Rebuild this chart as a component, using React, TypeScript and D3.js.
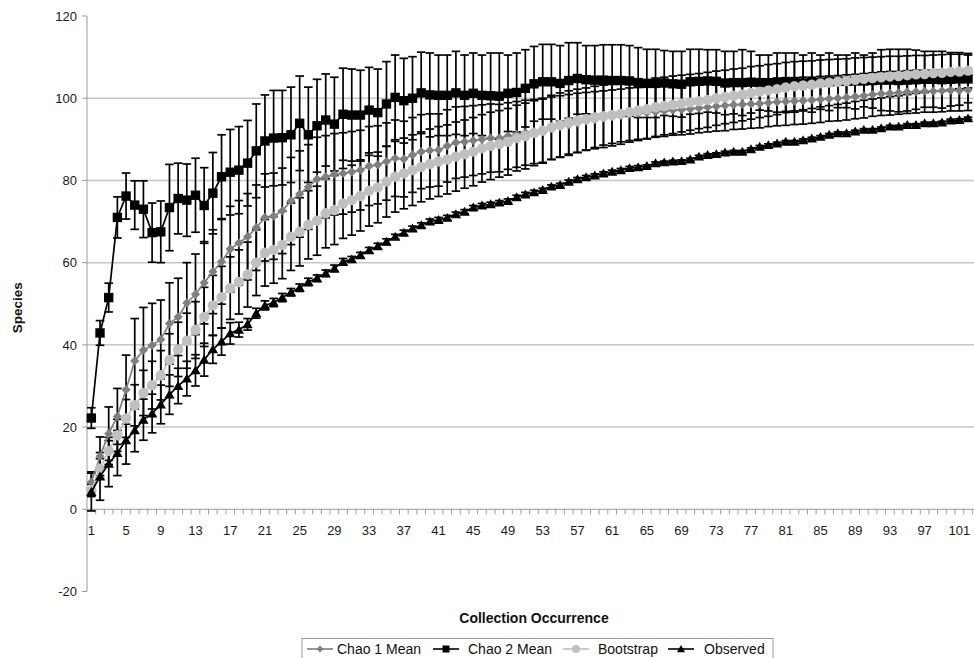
import React from 'react';
import * as d3 from 'd3';

const categories: number[] = Array.from({ length: 102 }, (_, i) => i + 1);
const xTickLabels = [1, 5, 9, 13, 17, 21, 25, 29, 33, 37, 41, 45, 49, 53, 57, 61, 65, 69, 73, 77, 81, 85, 89, 93, 97, 101];
const yTicks = [-20, 0, 20, 40, 60, 80, 100, 120];
const gridValues = [20, 40, 60, 80, 100];

const chao1Mean = [
  6.6, 12.9, 18.4, 22.6, 29.1, 36.1, 38.7, 39.9, 41.3, 45.2,
  46.8, 50.2, 52.3, 55.1, 57.8, 60.2, 63.3, 64.8, 66.3, 68.5,
  71.0, 71.3, 72.6, 75.0, 76.7, 78.4, 80.3, 80.9, 81.5, 81.7,
  82.1, 82.5, 83.5, 83.8, 84.6, 85.4, 85.2, 86.2, 87.0, 87.3,
  87.4, 88.4, 89.2, 89.4, 89.7, 90.0, 90.3, 90.3, 90.8, 91.2,
  91.6, 91.9, 92.1, 92.7, 93.1, 93.5, 94.0, 94.4, 94.8, 95.2,
  95.5, 95.8, 96.1, 96.3, 96.5, 96.7, 96.9, 97.1, 97.2, 97.4,
  97.6, 97.8, 98.0, 98.2, 98.4, 98.5, 98.6, 98.7, 98.9, 99.1,
  99.2, 99.3, 99.4, 99.5, 99.7, 99.9, 100.0, 100.2, 100.4, 100.6,
  100.9, 101.1, 101.2, 101.3, 101.5, 101.6, 101.7, 101.7, 101.8, 101.9,
  101.9, 102.0,
];
const chao1Sd = [
  2.5, 4.7, 6.5, 6.8, 8.4, 10.3, 10.4, 10.2, 9.6, 9.9,
  9.4, 9.8, 9.8, 10.0, 10.2, 10.3, 10.4, 10.3, 10.5, 10.4,
  10.6, 10.5, 10.4, 10.6, 10.5, 10.3, 10.2, 10.0, 9.9, 9.9,
  9.8, 9.7, 9.6, 9.5, 9.4, 9.3, 9.2, 9.1, 9.0, 8.9,
  8.8, 8.8, 8.7, 8.6, 8.5, 8.4, 8.3, 8.2, 8.1, 8.0,
  7.9, 7.8, 7.7, 7.6, 7.5, 7.4, 7.2, 7.0, 6.8, 6.6,
  6.5, 6.4, 6.4, 6.3, 6.3, 6.2, 6.2, 6.1, 6.1, 6.1,
  6.0, 6.0, 6.0, 6.1, 6.0, 6.0, 5.9, 5.9, 5.8, 5.8,
  5.8, 5.7, 5.7, 5.6, 5.6, 5.5, 5.5, 5.5, 5.4, 5.4,
  5.3, 5.3, 5.3, 5.2, 5.2, 5.2, 5.1, 5.1, 5.1, 5.0,
  5.0, 5.0,
];

const chao2Mean = [
  22.2, 42.9, 51.5, 71.0, 76.2, 74.0, 73.0, 67.3, 67.5, 73.4,
  75.6, 75.2, 76.4, 73.9, 76.9, 80.9, 82.0, 82.5, 84.2, 87.2,
  89.6, 90.3, 90.4, 91.1, 93.9, 91.1, 93.3, 94.7, 93.7, 96.1,
  95.9, 95.9, 97.1, 96.5, 98.6, 100.2, 99.4, 100.0, 101.3, 100.8,
  100.7, 100.7, 101.3, 100.7, 101.2, 100.7, 100.6, 100.5, 101.2, 101.4,
  102.4, 103.5, 104.0, 104.0, 103.6, 104.3, 104.8, 104.5, 104.4, 104.4,
  104.3, 104.3, 104.2, 103.8, 103.6, 103.6, 103.7, 103.5, 103.4, 104.0,
  104.1, 104.2, 104.1, 103.7, 103.8, 103.8, 103.9, 103.8, 103.7, 103.8,
  103.9, 103.8, 103.7, 103.8, 103.9, 104.0, 104.1, 104.1, 104.2, 104.2,
  104.3, 104.4, 104.4, 104.3, 104.4, 104.5, 104.6, 104.6, 104.5, 104.6,
  104.7, 104.7,
];
const chao2Sd = [
  2.5, 3.0, 3.5, 5.0, 5.6, 5.9, 6.9, 7.2, 7.5, 10.5,
  8.6, 8.8, 9.0, 9.2, 9.9, 10.2, 10.4, 10.6, 10.4, 11.4,
  11.2, 11.6, 11.5, 11.6, 11.5, 11.6, 11.3, 11.2, 11.4, 11.2,
  11.2, 10.9, 10.4, 10.6, 10.3, 10.3, 10.3, 10.1, 9.9, 10.2,
  9.8, 9.8, 10.1, 9.8, 9.8, 9.8, 10.4, 10.5, 9.3, 9.6,
  9.4, 9.1, 9.1, 9.1, 9.2, 9.2, 8.7, 8.3, 8.4, 8.6,
  8.7, 8.7, 8.6, 8.5, 8.3, 8.3, 7.9, 7.9, 8.0, 7.9,
  7.8, 7.6, 7.7, 7.7, 7.6, 8.0, 7.5, 6.7, 6.8, 7.2,
  7.1, 7.2, 6.8, 7.2, 6.6, 7.0, 6.4, 6.4, 6.8, 6.3,
  6.7, 7.4, 7.5, 7.6, 7.5, 7.2, 6.8, 6.8, 6.9, 6.5,
  6.4, 5.8,
];

const bootstrapMean = [
  4.6, 9.9, 14.2, 18.0, 22.1, 25.3, 28.3, 30.2, 32.6, 36.3,
  38.9, 41.0, 43.6, 46.8, 49.6, 51.6, 53.8, 55.3, 57.1, 60.0,
  62.4, 63.1, 64.3, 66.3, 67.5, 69.2, 70.2, 72.0, 72.8, 74.4,
  75.2, 76.2, 77.5, 78.3, 79.7, 80.9, 81.7, 82.5, 83.3, 84.0,
  84.6, 85.1, 85.8, 86.4, 87.0, 87.8, 88.4, 88.9, 89.4, 90.3,
  90.8, 91.5, 92.1, 92.9, 93.5, 94.1, 94.5, 94.9, 95.3, 95.6,
  95.9, 96.2, 96.6, 97.0, 97.3, 97.8, 98.1, 98.4, 98.7, 99.0,
  99.3, 99.6, 100.0, 100.3, 100.6, 100.9, 101.3, 101.6, 101.9, 102.2,
  102.6, 102.9, 103.1, 103.3, 103.6, 103.8, 104.0, 104.2, 104.5, 104.7,
  104.9, 105.1, 105.3, 105.4, 105.6, 105.8, 105.9, 106.1, 106.2, 106.4,
  106.5, 106.7,
];
const bootstrapSd = [
  1.5, 2.4, 3.3, 3.9, 4.6, 5.0, 5.5, 5.8, 6.0, 6.4,
  6.6, 6.7, 6.9, 7.2, 7.3, 7.5, 7.6, 7.8, 7.9, 8.0,
  8.1, 8.1, 8.2, 8.2, 8.3, 8.3, 8.4, 8.4, 8.4, 8.5,
  8.5, 8.5, 8.6, 8.6, 8.6, 8.6, 8.6, 8.6, 8.5, 8.5,
  8.5, 8.4, 8.4, 8.3, 8.3, 8.2, 8.2, 8.1, 8.1, 8.0,
  8.0, 7.9, 7.9, 7.8, 7.8, 7.7, 7.7, 7.6, 7.6, 7.6,
  7.5, 7.4, 7.3, 7.3, 7.2, 7.1, 7.0, 7.0, 6.9, 6.8,
  6.7, 6.7, 6.6, 6.5, 6.5, 6.4, 6.4, 6.3, 6.3, 6.2,
  6.1, 6.0, 5.9, 5.8, 5.7, 5.6, 5.5, 5.4, 5.3, 5.2,
  5.1, 5.0, 4.9, 4.8, 4.7, 4.6, 4.5, 4.4, 4.4, 4.3,
  4.2, 4.2,
];

const observedMean = [
  4.2, 8.0, 11.1, 13.7, 16.8, 19.2, 21.8, 23.3, 25.5, 27.9,
  30.0, 31.8, 33.8, 36.4, 38.9, 40.8, 42.8, 43.7, 45.0, 47.7,
  49.6, 50.3, 51.5, 52.8, 53.9, 55.3, 56.2, 57.4, 58.6, 60.2,
  60.8, 61.8, 63.0, 64.0, 65.1, 66.3, 67.3, 68.3, 69.1, 70.0,
  70.4, 70.9, 71.8, 72.4, 73.4, 73.9, 74.2, 74.6, 75.0, 75.9,
  76.6, 77.1, 77.7, 78.5, 78.9, 79.7, 80.3, 80.8, 81.2, 81.7,
  82.1, 82.5, 83.0, 83.2, 83.5, 84.2, 84.4, 84.6, 84.7, 85.1,
  85.8, 86.2, 86.4, 86.8, 87.0, 87.0, 87.6, 88.2, 88.6, 89.0,
  89.4, 89.4, 89.8, 90.2, 90.6, 91.1, 91.5, 91.5, 91.9, 92.3,
  92.3, 92.7, 93.1, 93.1, 93.5, 93.5, 93.9, 93.9, 94.1, 94.6,
  94.7, 95.1,
];
const observedSd = [
  4.6, 5.8, 5.6, 5.5, 5.8, 5.2, 5.0, 4.7, 4.7, 4.8,
  4.3, 4.2, 3.8, 4.0, 3.4, 3.3, 2.6, 1.8, 1.4, 1.2,
  1.1, 1.0, 1.0, 0.9, 0.9, 0.9, 0.8, 0.8, 0.8, 0.8,
  0.7, 0.7, 0.7, 0.7, 0.7, 0.6, 0.6, 0.6, 0.6, 0.6,
  0.6, 0.6, 0.5, 0.5, 0.5, 0.5, 0.5, 0.5, 0.5, 0.5,
  0.5, 0.5, 0.4, 0.4, 0.4, 0.4, 0.4, 0.4, 0.4, 0.4,
  0.4, 0.4, 0.4, 0.4, 0.3, 0.3, 0.3, 0.3, 0.3, 0.3,
  0.3, 0.3, 0.3, 0.3, 0.3, 0.3, 0.3, 0.3, 0.3, 0.3,
  0.3, 0.3, 0.3, 0.3, 0.3, 0.3, 0.3, 0.3, 0.3, 0.3,
  0.3, 0.3, 0.3, 0.3, 0.3, 0.3, 0.3, 0.3, 0.3, 0.3,
  0.3, 0.3,
];

type Marker = 'diamond' | 'square' | 'circle' | 'triangle';
interface Series {
  name: string;
  values: number[];
  sd: number[];
  color: string;
  marker: Marker;
}

const seriesList: Series[] = [
  { name: 'Chao 1 Mean', values: chao1Mean, sd: chao1Sd, color: '#7f7f7f', marker: 'diamond' },
  { name: 'Chao 2 Mean', values: chao2Mean, sd: chao2Sd, color: '#000000', marker: 'square' },
  { name: 'Bootstrap', values: bootstrapMean, sd: bootstrapSd, color: '#c0c0c0', marker: 'circle' },
  { name: 'Observed', values: observedMean, sd: observedSd, color: '#000000', marker: 'triangle' },
];

const W = 974;
const H = 658;
const PLOT_LEFT = 87;
const BAND = 8.68;
const PLOT_RIGHT = PLOT_LEFT + categories.length * BAND;
const PLOT_TOP = 16;
const PLOT_BOTTOM = 591.5;
const FONT = '"Liberation Sans", Arial, sans-serif';

function markerPath(m: Marker, s: number): string {
  if (m === 'diamond') return `M0,${-s}L${s},0L0,${s}L${-s},0Z`;
  if (m === 'square') return `M${-s},${-s}H${s}V${s}H${-s}Z`;
  if (m === 'triangle') return `M0,${-s * 1.05}L${s * 1.1},${s * 0.85}L${-s * 1.1},${s * 0.85}Z`;
  return d3.arc()({ innerRadius: 0, outerRadius: s, startAngle: 0, endAngle: Math.PI * 2 }) || '';
}

const markerSize: Record<Marker, number> = { diamond: 4.6, square: 4.7, circle: 5.2, triangle: 4.7 };
const legendMarkerSize: Record<Marker, number> = { diamond: 3.4, square: 3.5, circle: 3.9, triangle: 3.7 };

export default function App() {
  const x = d3.scaleBand<number>().domain(categories).range([PLOT_LEFT, PLOT_RIGHT]).paddingInner(0).paddingOuter(0);
  const cx = (c: number) => (x(c) as number) + x.bandwidth() / 2;
  const y = d3.scaleLinear().domain([-20, 120]).range([PLOT_BOTTOM, PLOT_TOP]);
  const y0 = y(0);

  const line = d3
    .line<number>()
    .x((_, i) => cx(categories[i]))
    .y((v) => y(v));

  const legendItems = [
    { s: seriesList[0], lx: 307, tx: 337 },
    { s: seriesList[1], lx: 433, tx: 468 },
    { s: seriesList[2], lx: 563, tx: 598 },
    { s: seriesList[3], lx: 668, tx: 704 },
  ];
  const legendY = 649;

  return (
    <svg
      width={W}
      height={H}
      viewBox={`0 0 ${W} ${H}`}
      style={{ position: 'absolute', left: 0, top: 0, background: '#ffffff' }}
      fontFamily={FONT}
    >
      <rect x={0} y={0} width={W} height={H} fill="#ffffff" />

      {gridValues.map((g) => (
        <line key={'g' + g} x1={PLOT_LEFT} x2={W} y1={y(g)} y2={y(g)} stroke="#c6c6c6" strokeWidth={1.5} />
      ))}

      <line x1={PLOT_LEFT} x2={PLOT_LEFT} y1={PLOT_TOP} y2={PLOT_BOTTOM} stroke="#9a9a9a" strokeWidth={1} />
      {yTicks.map((t) => (
        <g key={'yt' + t}>
          <line x1={PLOT_LEFT - 5} x2={PLOT_LEFT} y1={y(t)} y2={y(t)} stroke="#9a9a9a" strokeWidth={1} />
          <text x={PLOT_LEFT - 10} y={y(t)} dy="0.36em" textAnchor="end" fontSize={13} fill="#1a1a1a">
            {t}
          </text>
        </g>
      ))}

      <line x1={PLOT_LEFT} x2={W} y1={y0} y2={y0} stroke="#9a9a9a" strokeWidth={1} />
      {categories.map((c) => (
        <line
          key={'xt' + c}
          x1={(x(c) as number) + x.bandwidth()}
          x2={(x(c) as number) + x.bandwidth()}
          y1={y0}
          y2={y0 + 5}
          stroke="#9a9a9a"
          strokeWidth={1}
        />
      ))}
      {xTickLabels.map((c) => (
        <text key={'xl' + c} x={cx(c)} y={y0 + 26} textAnchor="middle" fontSize={13} fill="#1a1a1a">
          {c}
        </text>
      ))}

      {seriesList.map((s) => (
        <g key={'eb' + s.name} stroke="#000" strokeWidth={1.7}>
          {s.values.map((v, i) => {
            const px = cx(categories[i]);
            const top = y(v + s.sd[i]);
            const bot = y(v - s.sd[i]);
            return (
              <g key={i}>
                <line x1={px} x2={px} y1={top} y2={bot} />
                <line x1={px - 4.3} x2={px + 4.3} y1={top} y2={top} />
                <line x1={px - 4.3} x2={px + 4.3} y1={bot} y2={bot} />
              </g>
            );
          })}
        </g>
      ))}

      {seriesList.map((s) => (
        <g key={'s' + s.name}>
          <path d={line(s.values) || ''} fill="none" stroke={s.color} strokeWidth={1.7} />
          {s.values.map((v, i) => (
            <path
              key={i}
              d={markerPath(s.marker, markerSize[s.marker])}
              transform={`translate(${cx(categories[i])},${y(v)})`}
              fill={s.color}
            />
          ))}
        </g>
      ))}

      <text
        transform={`translate(22,${(PLOT_TOP + PLOT_BOTTOM) / 2 + 4}) rotate(-90)`}
        textAnchor="middle"
        fontSize={13.5}
        fontWeight="bold"
        fill="#111"
      >
        Species
      </text>
      <text x={534} y={623} textAnchor="middle" fontSize={14} fontWeight="bold" fill="#111">
        Collection Occurrence
      </text>

      <rect x={302} y={638.5} width={471} height={26} fill="#fff" stroke="#9a9a9a" strokeWidth={1} />
      {legendItems.map(({ s, lx, tx }) => (
        <g key={'lg' + s.name}>
          <line x1={lx} x2={lx + 26} y1={legendY} y2={legendY} stroke={s.color} strokeWidth={1.6} />
          <path
            d={markerPath(s.marker, legendMarkerSize[s.marker])}
            transform={`translate(${lx + 13},${legendY})`}
            fill={s.color}
          />
          <text x={tx} y={legendY} dy="0.36em" fontSize={14} fill="#111">
            {s.name}
          </text>
        </g>
      ))}
    </svg>
  );
}
